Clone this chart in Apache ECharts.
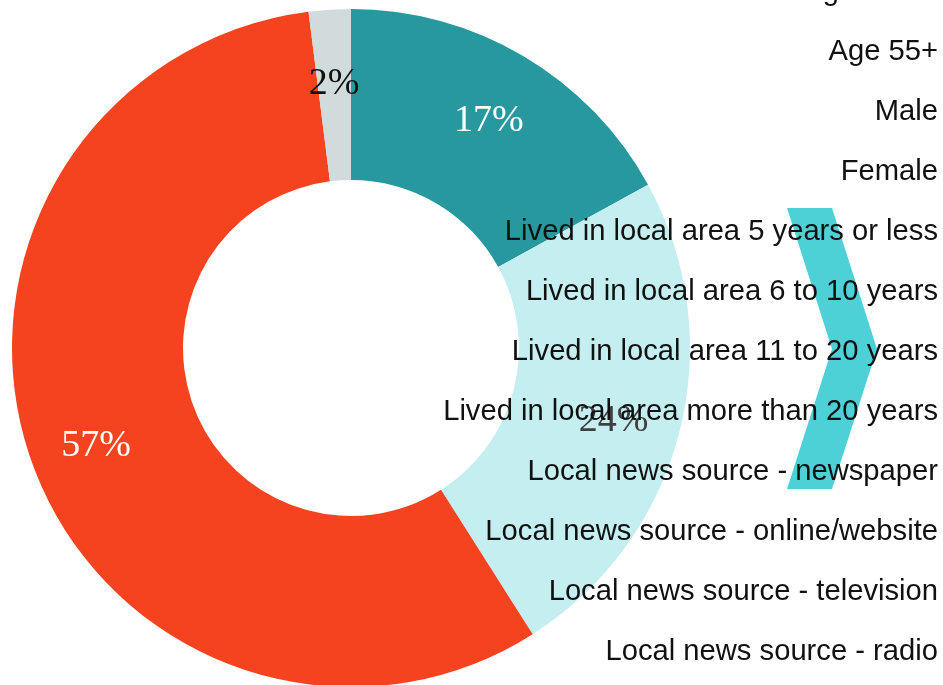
<!DOCTYPE html>
<html>
<head>
<meta charset="utf-8">
<script src="https://cdn.jsdelivr.net/npm/echarts@6/dist/echarts.min.js"></script>
<style>
html,body{margin:0;padding:0;background:#fff;}
#chart{width:943px;height:685px;}
</style>
</head>
<body>
<div id="chart"></div>
<script>
// Data
var sliceNames = ['Segment A', 'Segment B', 'Segment C', 'Segment D'];
var sliceValues = [17, 24, 57, 2];
var sliceColors = ['#27989e', '#c4eeef', '#f5431f', '#d2dbdb'];
var labelColors = ['#ffffff', '#3f3f3f', '#ffffff', '#111111'];
var legendLabels = [
  'Age 35-54',
  'Age 55+',
  'Male',
  'Female',
  'Lived in local area 5 years or less',
  'Lived in local area 6 to 10 years',
  'Lived in local area 11 to 20 years',
  'Lived in local area more than 20 years',
  'Local news source - newspaper',
  'Local news source - online/website',
  'Local news source - television',
  'Local news source - radio'
];

var chart = echarts.init(document.getElementById('chart'));

var baseData = sliceValues.map(function (v, i) {
  return { name: sliceNames[i], value: v, itemStyle: { color: sliceColors[i] } };
});
var labelData = sliceValues.map(function (v, i) {
  return {
    name: sliceNames[i], value: v,
    itemStyle: { color: 'rgba(0,0,0,0)' },
    label: { color: labelColors[i] }
  };
});

var graphics = [];
graphics.push({
  type: 'polygon',
  z: 10,
  shape: { points: [[787, 208], [832, 208], [877, 349], [832, 489], [787, 489], [832, 349]] },
  style: { fill: '#4dd0d6' }
});
legendLabels.forEach(function (t, i) {
  graphics.push({
    type: 'text',
    z: 20,
    right: 5,
    top: -23 + 60 * i,
    style: {
      text: t,
      fill: '#111111',
      font: '29.2px "Liberation Sans", Arial, sans-serif',
      textAlign: 'right'
    }
  });
});

chart.setOption({
  animation: false,
  series: [
    {
      type: 'pie',
      center: [351, 348],
      radius: [168, 339],
      startAngle: 90,
      clockwise: true,
      silent: true,
      label: { show: false },
      labelLine: { show: false },
      emphasis: { disabled: true },
      data: baseData
    },
    {
      type: 'pie',
      center: [351, 354],
      radius: [197, 339],
      startAngle: 90,
      clockwise: true,
      silent: true,
      z: 3,
      label: {
        show: true,
        position: 'inside',
        formatter: '{c}%',
        fontFamily: '"Liberation Serif", "DejaVu Serif", serif',
        fontSize: 38
      },
      labelLine: { show: false },
      emphasis: { disabled: true },
      data: labelData
    }
  ],
  graphic: graphics
});
</script>
</body>
</html>
